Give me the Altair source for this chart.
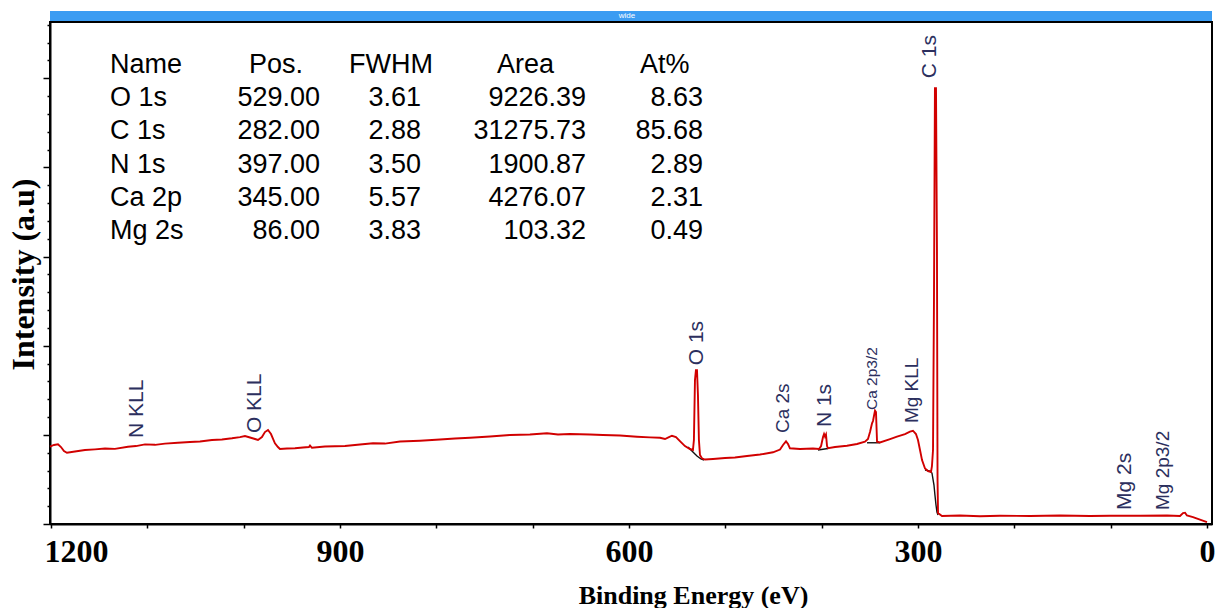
import altair as alt
import pandas as pd

# ---------------- data ----------------
energy_ev = [1201.0, 1196.9, 1192.7, 1189.6, 1186.5, 1183.4, 1175.1, 1164.7, 1154.3, 1143.9,
             1133.6, 1120.1, 1111.8, 1102.4, 1092.0, 1081.7, 1068.2, 1055.7, 1045.3, 1032.9,
             1022.5, 1012.1, 1003.8, 998.6, 993.4, 988.2, 985.1, 981.0, 977.9, 974.7,
             971.6, 967.5, 964.4, 962.3, 955.0, 946.7, 938.4, 932.2, 931.1, 929.1,
             915.6, 894.8, 879.2, 865.7, 853.3, 837.7, 816.9, 796.2, 780.6, 765.0,
             744.3, 723.5, 702.8, 685.1, 673.7, 661.2, 640.5, 627.0, 609.3, 591.7,
             578.2, 567.8, 562.6, 558.5, 555.4, 551.2, 547.1, 541.9, 536.7, 533.6,
             532.6, 531.5, 530.5, 529.4, 528.4, 527.4, 526.3, 524.3, 521.1, 512.8,
             500.3, 490.0, 477.5, 464.0, 450.5, 443.2, 440.1, 437.0, 434.9, 432.9,
             422.5, 409.0, 402.7, 400.6, 398.6, 397.5, 396.5, 395.5, 394.4, 393.4,
             386.1, 373.7, 363.3, 355.0, 351.9, 349.8, 347.7, 346.7, 345.7, 344.6,
             343.6, 342.5, 339.4, 329.0, 321.8, 313.5, 308.3, 305.2, 302.1, 300.0,
             297.9, 295.8, 292.7, 289.6, 286.5, 285.5, 284.4, 283.4, 282.4, 281.3,
             280.3, 279.7, 279.2, 275.1, 256.4, 235.6, 214.9, 183.7, 152.6, 121.4,
             100.7, 69.5, 41.5, 28.0, 24.9, 22.8, 20.8, 14.5, 7.3, 0.0]
intensity = [8.67, 8.86, 8.93, 8.63, 8.18, 7.99, 8.13, 8.30, 8.37, 8.46,
             8.43, 8.67, 8.74, 8.93, 8.88, 9.02, 9.11, 9.19, 9.25, 9.42,
             9.47, 9.61, 9.75, 9.87, 9.70, 9.53, 9.42, 9.75, 10.31, 10.54,
             10.09, 9.05, 8.63, 8.41, 8.46, 8.49, 8.58, 8.63, 8.80, 8.55,
             8.69, 8.74, 8.91, 9.05, 9.02, 9.25, 9.34, 9.47, 9.59, 9.67,
             9.81, 9.98, 10.03, 10.17, 10.03, 10.09, 10.03, 9.98, 9.92, 9.79,
             9.72, 9.67, 9.53, 9.75, 9.90, 9.75, 9.30, 8.74, 8.41, 8.30,
             9.42, 16.14, 17.26, 17.26, 14.46, 9.42, 7.74, 7.37, 7.23, 7.29,
             7.40, 7.46, 7.62, 7.79, 8.04, 8.35, 8.86, 9.27, 8.97, 8.49,
             8.41, 8.46, 8.41, 8.74, 9.75, 10.09, 9.81, 10.03, 8.74, 8.49,
             8.63, 8.78, 8.97, 9.23, 9.53, 10.31, 11.29, 11.55, 12.11, 12.72,
             12.56, 9.23, 9.14, 9.53, 9.79, 10.09, 10.37, 10.46, 10.09, 9.42,
             8.30, 7.17, 6.22, 5.94, 5.83, 6.50, 8.30, 25.11, 48.88, 48.88,
             30.72, 4.93, 1.23, 0.90, 0.95, 0.87, 0.93, 0.90, 0.95, 0.90,
             0.93, 0.92, 0.95, 0.90, 1.23, 1.27, 0.95, 0.78, 0.50, 0.22]

# fitted backgrounds (black) under the fitted peaks
bg_segment = ["O 1s"] * 5 + ["N 1s"] * 2 + ["Ca 2p"] * 2 + ["C 1s"] * 8
bg_energy = [538.7, 533.6, 529.4, 525.3, 522.1,
             403.8, 393.4,
             352.9, 339.4,
             292.7, 287.5, 285.5, 283.4, 282.4, 281.3, 280.3, 279.2]
bg_intensity = [8.63, 8.07, 7.62, 7.29, 7.17,
                8.30, 8.46,
                9.11, 9.11,
                6.05, 5.94, 5.72, 4.37, 3.25, 2.13, 1.35, 1.01]

peak_names = ["N KLL", "O KLL", "O 1s", "Ca 2s", "N 1s", "Ca 2p3/2", "Mg KLL", "C 1s", "Mg 2s", "Mg 2p3/2"]
peak_label_energy = [1110.7, 988.2, 529.7, 440.1, 396.5, 347.7, 306.2, 287.5, 85.1, 45.6]
peak_label_intensity = [9.64, 10.2, 17.8, 10.2, 10.87, 12.78, 11.32, 50.0, 1.57, 1.57]

table_headers = ["Name", "Pos.", "FWHM", "Area", "At%"]
table_name = ["O 1s", "C 1s", "N 1s", "Ca 2p", "Mg 2s"]
table_pos = ["529.00", "282.00", "397.00", "345.00", "86.00"]
table_fwhm = ["3.61", "2.88", "3.50", "5.57", "3.83"]
table_area = ["9226.39", "31275.73", "1900.87", "4276.07", "103.32"]
table_at = ["8.63", "85.68", "2.89", "2.31", "0.49"]

x_tick_values = list(range(0, 1201, 100))
y_tick_values = list(range(0, 57, 2))

# ---------------- styling ----------------
W, H = 1162, 502
RED = "#d10000"
NAVY = "#2c2f5e"
SERIF = "Liberation Serif"
SANS = "Liberation Sans"

x_scale = alt.Scale(domain=[-5.2, 1201], reverse=True, nice=False, zero=False)
y_scale = alt.Scale(domain=[0, 56.3], nice=False, zero=False)

x_axis = alt.Axis(
    values=x_tick_values, format="d", grid=False,
    labelExpr="datum.value % 300 === 0 ? datum.label : ''",
    labelFont=SERIF, labelFontWeight="bold", labelFontSize=32, labelColor="black",
    labelBaseline="alphabetic", labelPadding=33, labelOverlap=False, labelBound=False,
    labelFlush=3, labelFlushOffset=7,
    tickSize=4, tickColor="black", tickWidth=1.5,
    domainColor="black", domainWidth=2,
    title="Binding Energy (eV)", titleFont=SERIF, titleFontWeight="bold", titleFontSize=26,
    titleColor="black", titleX=643, titleY=79, titleBaseline="alphabetic", titleAlign="center",
)
y_axis = alt.Axis(
    values=y_tick_values, labels=False, grid=False,
    tickSize={"condition": {"test": "datum.value % 10 === 0", "value": 7}, "value": 3},
    tickColor="black", tickWidth=1.5,
    domainColor="black", domainWidth=2,
    title="Intensity (a.u)", titleFont=SERIF, titleFontWeight="bold", titleFontSize=32,
    titleColor="black", titleX=-17, titleY=252, titleAngle=270,
    titleBaseline="alphabetic", titleAlign="center",
)

def X():
    return alt.X("E:Q", scale=x_scale, axis=x_axis)

def Y():
    return alt.Y("I:Q", scale=y_scale, axis=y_axis)

spec_df = pd.DataFrame({"E": energy_ev, "I": intensity})
bg_df = pd.DataFrame({"seg": bg_segment, "E": bg_energy, "I": bg_intensity})
label_size = {"Ca 2p3/2": 15.5, "Ca 2s": 19, "Mg KLL": 19, "Mg 2p3/2": 19}
peaks_df = pd.DataFrame({"label": peak_names, "E": peak_label_energy, "I": peak_label_intensity})
peaks_df["fs"] = [label_size.get(n, 21) for n in peak_names]
table_df = pd.DataFrame({"row": list(range(1, 6)), "name": table_name, "pos": table_pos,
                         "fwhm": table_fwhm, "area": table_area, "at": table_at})
head_df = pd.DataFrame({"h": table_headers, "row": [0] * 5})
one = pd.DataFrame({"a": [0]})

bg_line = alt.Chart(bg_df).mark_line(color="#111111", strokeWidth=1.4).encode(
    x=X(), y=Y(), detail="seg:N")
red_line = alt.Chart(spec_df).mark_line(color=RED, strokeWidth=1.9).encode(x=X(), y=Y())

labels = alt.Chart(peaks_df).mark_text(
    angle=270, align="left", baseline="middle", font=SANS, color=NAVY
).encode(x=X(), y=Y(), text="label:N", size=alt.Size("fs:Q", scale=None, legend=None))

row_y = "50.6 - 3.735 * datum.row"
FS = 27

def table_col(df, field, xpix, align):
    return alt.Chart(df).transform_calculate(I=row_y).mark_text(
        align=align, baseline="alphabetic", font=SANS, fontSize=FS, color="black"
    ).encode(x=alt.value(xpix), y=Y(), text=f"{field}:N")

header_x = [60, 199, 299, 447, 590]
headers = [
    alt.Chart(head_df).transform_filter(f"datum.h === '{h}'").transform_calculate(I=row_y).mark_text(
        align="left", baseline="alphabetic", font=SANS, fontSize=FS, color="black"
    ).encode(x=alt.value(hx), y=Y(), text="h:N")
    for h, hx in zip(table_headers, header_x)
]
cols = [
    table_col(table_df, "name", 60, "left"),
    table_col(table_df, "pos", 270, "right"),
    table_col(table_df, "fwhm", 371, "right"),
    table_col(table_df, "area", 536, "right"),
    table_col(table_df, "at", 653, "right"),
]

top_bar = alt.Chart(one).mark_rect(color="#3b9cf2").encode(
    x=alt.value(0), x2=alt.value(W), y=alt.value(-11), y2=alt.value(-1))
wide_txt = alt.Chart(one).mark_text(text="wide", color="white", fontSize=8, font=SANS,
                                     baseline="middle").encode(x=alt.value(577), y=alt.value(-6))

chart = alt.layer(
    bg_line, red_line, labels, *headers, *cols, top_bar, wide_txt
).properties(
    width=W, height=H,
    padding={"left": 50, "top": 22, "right": 6, "bottom": 84},
    autosize=alt.AutoSizeParams(type="none"),
    background="white",
).configure_view(stroke="black", strokeWidth=2)

chart.save("out.html", embed_options={"renderer": "svg", "actions": False})
